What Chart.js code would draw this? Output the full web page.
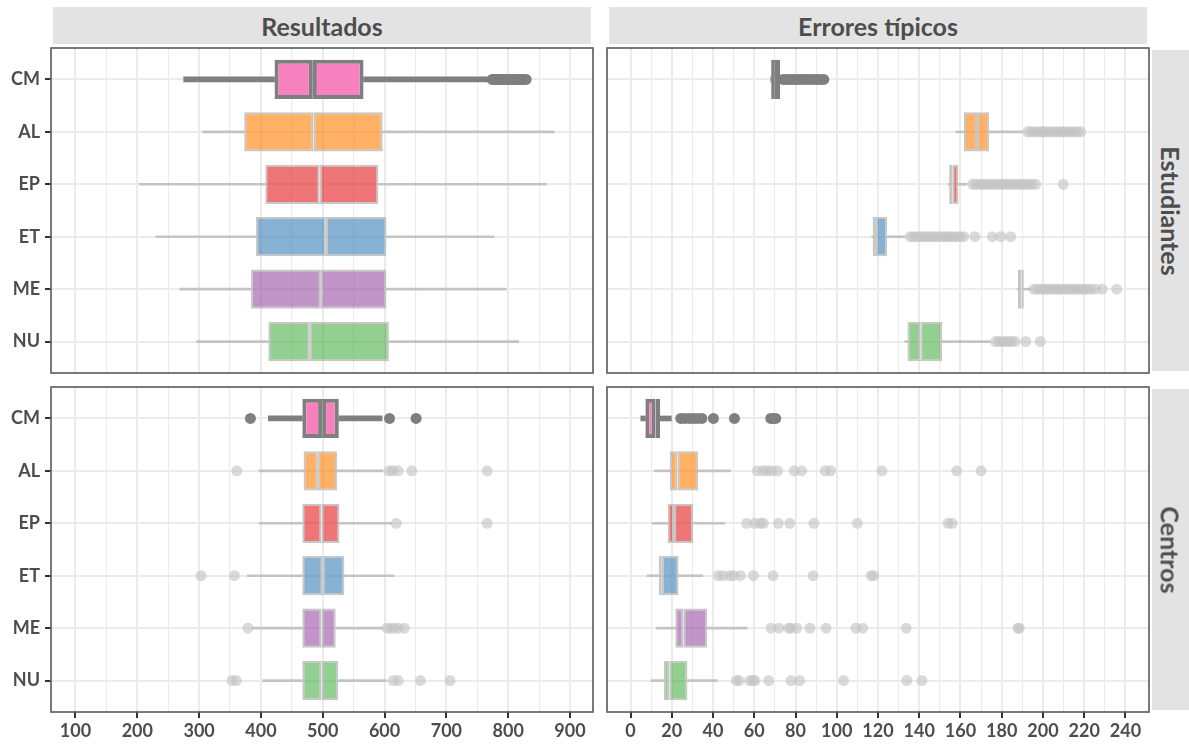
<!DOCTYPE html>
<html>
<head>
<meta charset="utf-8">
<script src="https://cdn.jsdelivr.net/npm/chart.js@4.4.1/dist/chart.umd.min.js"></script>
<style>
  html, body { margin: 0; padding: 0; background: #ffffff; }
  #wrap { position: relative; width: 1189px; height: 744px; overflow: hidden; background: #ffffff; }
  #wrap canvas { position: absolute; left: 0; top: 0; }
  .strip { position: absolute; background: #E3E3E3; color: #4D4D4D;
           font: bold 25px Lato, "Open Sans", sans-serif;
           display: flex; align-items: center; justify-content: center; }
  .strip.v span { transform: rotate(90deg); white-space: nowrap; display: block; }
</style>
</head>
<body>
<div id="wrap">
  <canvas id="resEst" width="1189" height="744"></canvas>
  <canvas id="errEst" width="1189" height="744"></canvas>
  <canvas id="resCen" width="1189" height="744"></canvas>
  <canvas id="errCen" width="1189" height="744"></canvas>
  <div class="strip" style="left:53px;top:7px;width:538px;height:37px;">Resultados</div>
  <div class="strip" style="left:609px;top:7px;width:538px;height:37px;">Errores típicos</div>
  <div class="strip v" style="left:1152px;top:50px;width:37px;height:321px;"><span>Estudiantes</span></div>
  <div class="strip v" style="left:1152px;top:389px;width:37px;height:321px;"><span>Centros</span></div>
</div>
<script>
// Categories (top to bottom)
const CATS = ['CM', 'AL', 'EP', 'ET', 'ME', 'NU'];

// Axis ticks: labelled ticks and the unlabelled minor ones
const resTicks = [100, 200, 300, 400, 500, 600, 700, 800, 900];
const resMinor = [150, 250, 350, 450, 550, 650, 750, 850];
const errTicks = [0, 20, 40, 60, 80, 100, 120, 140, 160, 180, 200, 220, 240];
const errMinor = [10, 30, 50, 70, 90, 110, 130, 150, 170, 190, 210, 230];

// Resultados - Estudiantes
const resEstLow  = [275, 306, 203, 230, 269, 296];
const resEstQ1   = [422, 373, 407, 392, 384, 412];
const resEstMed  = [484, 485, 495, 505, 497, 479];
const resEstQ3   = [566, 597, 590, 603, 603, 607];
const resEstHigh = [771, 874, 862, 777, 797, 817];
const resEstOut  = [
  [774, 777, 779, 782, 785, 788, 790, 793, 796, 799, 802, 805, 808, 811, 815, 818, 822, 825, 829],
  [], [], [], [], []
];

// Resultados - Centros
const resCenLow  = [412, 397, 397, 378, 386, 403];
const resCenQ1   = [467, 469, 467, 467, 467, 467];
const resCenMed  = [499, 492, 498, 500, 498, 498];
const resCenQ3   = [526, 523, 527, 535, 521, 525];
const resCenHigh = [596, 597, 612, 615, 597, 603];
const resCenOut  = [
  [383, 608, 651],
  [361, 607, 613, 622, 644, 766],
  [619, 766],
  [303, 357],
  [379, 604, 610, 616, 622, 632],
  [353, 360, 614, 622, 658, 706]
];

// Errores tipicos - Estudiantes
const errEstLow  = [68.0, 157.8, 154.0, 117.0, 187.5, 133.0];
const errEstQ1   = [68.2, 161.7, 154.5, 117.4, 187.8, 134.3];
const errEstMed  = [70.0, 168.0, 156.0, 119.0, 189.6, 140.7];
const errEstQ3   = [72.6, 173.9, 159.0, 124.4, 190.7, 151.1];
const errEstHigh = [73.0, 190.0, 163.0, 132.8, 194.0, 174.4];
const errEstOut  = [
  [74.0, 75.4, 77.1, 78.6, 80.2, 81.5, 83.1, 84.7, 86.0, 87.6, 89.2, 90.5, 92.1, 93.7],
  [192.6, 194.1, 195.7, 197.0, 198.6, 200.2, 201.5, 203.1, 204.8, 206.2, 207.7, 209.1, 210.6, 212.2, 213.6, 215.1, 216.6, 218.3],
  [165.9, 167.4, 169.0, 170.6, 172.1, 173.5, 175.2, 176.6, 178.1, 179.7, 181.2, 182.6, 184.2, 185.7, 187.3, 188.6, 190.1, 191.7, 193.2, 194.6, 196.5, 209.8],
  [135.6, 137.1, 138.7, 140.2, 141.6, 143.1, 144.7, 146.2, 147.6, 149.1, 150.7, 152.2, 153.6, 155.1, 156.7, 158.2, 159.8, 161.6, 167.0, 175.4, 179.6, 184.3],
  [195.7, 197.3, 198.8, 200.4, 201.9, 203.3, 204.9, 206.5, 207.9, 209.4, 211.0, 212.5, 213.9, 215.5, 217.0, 218.6, 220.1, 221.5, 223.2, 225.4, 228.7, 235.7],
  [177.0, 178.6, 180.1, 181.5, 183.1, 184.6, 186.5, 191.7, 198.7]
];

// Errores tipicos - Centros
const errCenLow  = [5.0, 11.5, 10.6, 8.1, 12.6, 10.0];
const errCenQ1   = [7.2, 19.1, 18.0, 13.7, 21.7, 16.1];
const errCenMed  = [12.2, 22.8, 21.1, 15.2, 25.6, 18.9];
const errCenQ3   = [14.4, 32.8, 30.4, 23.3, 37.2, 27.6];
const errCenHigh = [19.8, 48.5, 45.7, 35.0, 56.5, 42.0];
const errCenOut  = [
  [24.4, 26.3, 28.5, 30.4, 32.4, 34.6, 40.2, 50.4, 68.0, 69.3, 70.4],
  [61.5, 64.4, 66.3, 68.5, 71.3, 79.4, 83.0, 94.4, 97.0, 121.9, 158.1, 170.0],
  [56.3, 60.2, 63.0, 64.4, 71.7, 77.2, 88.9, 110.0, 154.0, 156.0],
  [42.6, 44.8, 48.1, 50.0, 53.3, 59.6, 69.1, 88.5, 116.7, 118.0],
  [68.1, 72.0, 76.7, 77.8, 80.6, 87.0, 94.8, 109.3, 112.6, 133.7, 187.8, 188.5],
  [51.3, 52.6, 57.8, 59.3, 60.4, 67.0, 77.8, 82.0, 103.3, 133.9, 141.3]
];

// ---- styling ----
const FILLS = [
  'rgba(247,129,191,1)',
  'rgba(255,127,0,0.6)',
  'rgba(228,26,28,0.6)',
  'rgba(55,126,184,0.6)',
  'rgba(152,78,163,0.6)',
  'rgba(77,175,74,0.6)'
];
const DARK = '#7F7F7F';
const LIGHT = 'rgba(185,185,185,0.8)';
const POINT_LIGHT = 'rgba(195,195,195,0.62)';
const GRID = '#EBEBEB';
const TEXT = '#4D4D4D';
const FONT = 'Lato, "Open Sans", sans-serif';

Chart.defaults.font.family = FONT;
Chart.defaults.color = TEXT;

// panel frame drawn on top of everything
const framePlugin = {
  id: 'panelFrame',
  afterDraw(chart) {
    const { ctx, chartArea: a } = chart;
    ctx.save();
    ctx.strokeStyle = '#595959';
    ctx.lineWidth = 1.6;
    ctx.strokeRect(a.left, a.top, a.right - a.left, a.bottom - a.top);
    ctx.restore();
  }
};

function boxDatasets(low, q1, med, q3, high, outs) {
  const whiskCM = [], whiskOther = [], lowerHalf = [], upperHalf = [], outCM = [], outOther = [];
  CATS.forEach((c, i) => {
    const y = i + 1;
    const w = i === 0 ? whiskCM : whiskOther;
    w.push({ y, x: [low[i], q1[i]] });
    w.push({ y, x: [q3[i], high[i]] });
    lowerHalf.push({ y, x: [q1[i], med[i]] });
    upperHalf.push({ y, x: [med[i], q3[i]] });
    outs[i].forEach(v => (i === 0 ? outCM : outOther).push({ x: v, y }));
  });
  const halfStyle = {
    type: 'bar', grouped: false, order: 1,
    barPercentage: 0.75, categoryPercentage: 1,
    borderSkipped: false,
    backgroundColor: ctx => FILLS[ctx.dataIndex],
    borderColor: ctx => ctx.dataIndex === 0 ? DARK : LIGHT,
    borderWidth: ctx => ctx.dataIndex === 0 ? 4 : 2
  };
  return [
    Object.assign({ label: 'q1-mediana', data: lowerHalf }, halfStyle),
    Object.assign({ label: 'mediana-q3', data: upperHalf }, halfStyle),
    { type: 'bar', label: 'bigotes CM', data: whiskCM, grouped: false, order: 3,
      barThickness: 5, backgroundColor: DARK, borderWidth: 0 },
    { type: 'bar', label: 'bigotes', data: whiskOther, grouped: false, order: 3,
      barThickness: 2, backgroundColor: LIGHT, borderWidth: 0 },
    { type: 'scatter', label: 'atipicos CM', data: outCM, order: 4, showLine: false,
      pointRadius: 5.5, backgroundColor: DARK, borderWidth: 0 },
    { type: 'scatter', label: 'atipicos', data: outOther, order: 5, showLine: false,
      pointRadius: 5.5, backgroundColor: POINT_LIGHT, borderWidth: 0 }
  ];
}

function makePanel(id, stats, xr, ticks, minor, area, showX, showY) {
  const yAxisW = showY ? 51 : 0;
  const xAxisH = showX ? 32 : 0;
  const allTicks = ticks.concat(minor).sort((a, b) => a - b);
  const isMajor = v => ticks.indexOf(v) !== -1;
  new Chart(document.getElementById(id), {
    type: 'bar',
    data: { datasets: boxDatasets(...stats) },
    options: {
      indexAxis: 'y',
      responsive: false,
      animation: false,
      events: [],
      layout: {
        padding: {
          left: area.left - yAxisW,
          top: area.top,
          right: 1189 - area.right,
          bottom: 744 - area.bottom - xAxisH
        }
      },
      plugins: { legend: { display: false }, tooltip: { enabled: false } },
      scales: {
        x: {
          type: 'linear', min: xr[0], max: xr[1], offset: false,
          afterBuildTicks: s => { s.ticks = allTicks.map(v => ({ value: v })); },
          afterFit: s => { s.height = xAxisH; s.paddingLeft = 0; s.paddingRight = 0; },
          border: { display: false },
          grid: {
            offset: false,
            color: GRID,
            lineWidth: ctx => isMajor(ctx.tick.value) ? 2 : 1.1,
            drawTicks: showX,
            tickLength: 6,
            tickWidth: 2,
            tickColor: ctx => isMajor(ctx.tick.value) ? '#333333' : 'rgba(0,0,0,0)'
          },
          ticks: {
            display: showX, autoSkip: false, maxRotation: 0, minRotation: 0, padding: 2,
            color: TEXT, font: { size: 18, weight: 'bold', family: FONT },
            callback: v => isMajor(v) ? String(v) : ''
          }
        },
        y: {
          type: 'linear', reverse: true, min: 0.4, max: 6.6, offset: false,
          afterBuildTicks: s => { s.ticks = CATS.map((c, i) => ({ value: i + 1 })); },
          afterFit: s => { s.width = yAxisW; s.paddingTop = 0; s.paddingBottom = 0; },
          border: { display: false },
          grid: {
            offset: false,
            color: GRID, lineWidth: 2,
            drawTicks: showY, tickLength: 6, tickWidth: 2, tickColor: '#333333'
          },
          ticks: {
            display: showY, padding: 5,
            color: TEXT, font: { size: 18, weight: 'bold', family: FONT },
            callback: v => CATS[Math.round(v) - 1]
          }
        }
      }
    },
    plugins: [framePlugin]
  });
}

const leftRange = [60.4, 937.2];
const rightRange = [-11.4, 251.4];

makePanel('resEst', [resEstLow, resEstQ1, resEstMed, resEstQ3, resEstHigh, resEstOut],
  leftRange, resTicks, resMinor, { left: 51, top: 48, right: 593, bottom: 373 }, false, true);
makePanel('errEst', [errEstLow, errEstQ1, errEstMed, errEstQ3, errEstHigh, errEstOut],
  rightRange, errTicks, errMinor, { left: 607, top: 48, right: 1149, bottom: 373 }, false, false);
makePanel('resCen', [resCenLow, resCenQ1, resCenMed, resCenQ3, resCenHigh, resCenOut],
  leftRange, resTicks, resMinor, { left: 51, top: 387, right: 593, bottom: 712 }, true, true);
makePanel('errCen', [errCenLow, errCenQ1, errCenMed, errCenQ3, errCenHigh, errCenOut],
  rightRange, errTicks, errMinor, { left: 607, top: 387, right: 1149, bottom: 712 }, true, false);
</script>
</body>
</html>
